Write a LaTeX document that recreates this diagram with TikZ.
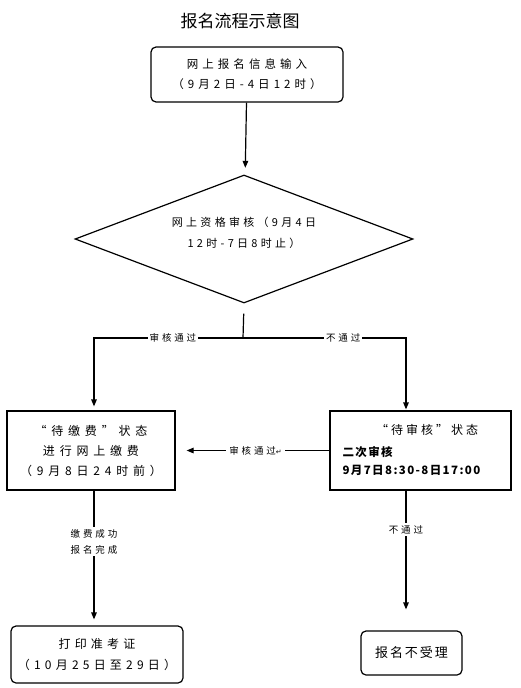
\documentclass[tikz,border=0pt]{standalone}
\usepackage{fontspec}
\setmainfont{Noto Sans CJK SC}
\newfontfamily\symfont{DejaVu Sans}
\usetikzlibrary{arrows.meta,shapes.geometric}

\begin{document}
\begin{tikzpicture}[x=1pt,y=-1pt,line width=1.2pt,
    arr/.style={-{Triangle[length=7pt,width=5.5pt]}},
    boxtext/.style={align=center,font=\fontsize{11.5}{20}\selectfont\addfontfeature{LetterSpace=35}},
    roundbox/.style={boxtext,draw,rounded corners=5pt,inner sep=0pt},
    sharpbox/.style={boxtext,draw,inner sep=0pt},
    flowlabel/.style={fill=white,inner sep=2pt,align=center,font=\fontsize{9.5}{16}\selectfont\addfontfeature{LetterSpace=30}}
  ]
        \fill[white] (0,0) rectangle (520,688);
        \useasboundingbox (0,0) rectangle (520,688);

        \coordinate (split)     at (243,338);
        \coordinate (leftturn)  at (94,338);
        \coordinate (rightturn) at (406,338);

        \node (title) at (240,21) {\fontsize{17}{20}\selectfont 报名流程示意图};

        \node[roundbox,minimum width=192pt,minimum height=55pt] (input) at (247,74.5)
            {网上报名信息输入\\（9月2日-4日12时）};

        \node[draw,diamond,aspect=2.64,inner sep=0pt,minimum width=338pt,minimum height=128pt] (check) at (244,239) {};
        \node[boxtext,font=\fontsize{11}{21}\selectfont\addfontfeature{LetterSpace=30}] (checktext) at (244,232.5)
            {网上资格审核（9月4日\\12时-7日8时止）};

        \node[sharpbox,minimum width=168pt,minimum height=79pt,
              font=\fontsize{12}{20}\selectfont\addfontfeature{LetterSpace=40}] (pay) at (91,450.5)
            {“待缴费”状态\\进行网上缴费\\（9月8日24时前）};

        \node[draw,minimum width=181pt,minimum height=79pt,inner sep=0pt] (recheck) at (420.5,450.5) {};
        \node[boxtext,font=\fontsize{12}{20}\selectfont\addfontfeature{LetterSpace=25}] (recheckhead) at (427,430) {“待审核”状态};
        \node[anchor=west,align=left,inner sep=0pt,
              font=\fontsize{11.5}{18}\selectfont\bfseries\addfontfeature{LetterSpace=12}] (recheckbody) at (342,461)
            {二次审核\\9月7日8:30-8日17:00};

        \node[roundbox,minimum width=172pt,minimum height=57pt,
              font=\fontsize{12}{21}\selectfont\addfontfeature{LetterSpace=35}] (ticket) at (97,654.5)
            {打印准考证\\（10月25日至29日）};

        \node[roundbox,minimum width=101pt,minimum height=44pt,
              font=\fontsize{13}{16}\selectfont\addfontfeature{LetterSpace=15}] (reject) at (411.5,653)
            {报名不受理};

        % main flow
        \draw[arr,shorten >=7pt] (input) -- (check);
        \draw[shorten <=10pt] (check.south) -- (split);
        \draw[arr,shorten >=4pt] (split) -- node[flowlabel,pos=0.47] {审核通过} (leftturn) -- (leftturn |- pay.north);
        \draw[arr,shorten >=1pt] (split) -- node[flowlabel,pos=0.615] {不通过} (rightturn) -- (rightturn |- recheck.north);

        % after review
        \draw[arr,shorten >=11pt] (recheck.west) -- node[flowlabel,pos=0.48,inner sep=3pt] {审核通过{\symfont\fontsize{7}{8}\selectfont ↵}} (pay.east);
        \draw[arr,shorten >=6pt] (leftturn |- pay.south) -- node[flowlabel,pos=0.38] {缴费成功\\报名完成} (leftturn |- ticket.north);
        \draw[arr,shorten >=21pt] (rightturn |- recheck.south) -- node[flowlabel,pos=0.28] {不通过} (rightturn |- reject.north);
\end{tikzpicture}
\end{document}
